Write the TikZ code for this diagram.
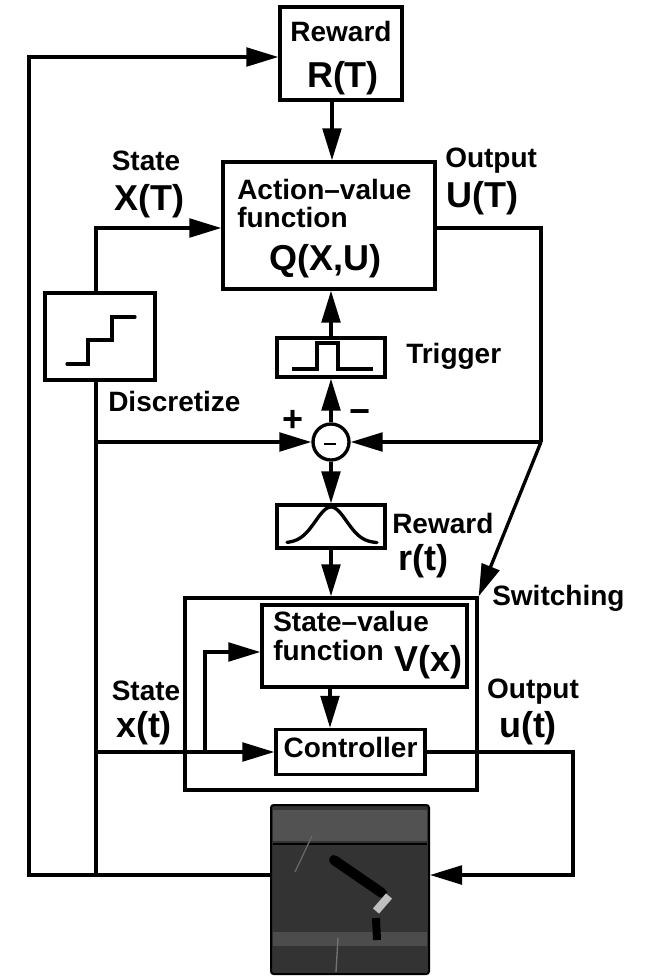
\documentclass[tikz,border=0pt]{standalone}
\usepackage{fontspec}
\setmainfont{Liberation Sans}
\usetikzlibrary{arrows.meta}
\begin{document}
\begin{tikzpicture}[x=0.75pt,y=-0.75pt,
  wire/.style={line width=2.5pt},
  arr/.style={wire,-{Triangle[length=24pt,width=14pt]}},
  blk/.style={draw, line width=2.5pt, inner sep=0pt, fill=white},
  lab/.style={inner sep=0pt, font=\fontsize{21}{21}\selectfont\bfseries},
  fml/.style={inner sep=0pt, font=\fontsize{27}{27}\selectfont\bfseries}]
\useasboundingbox (0,0) rectangle (649,976);

% blocks
\node[blk, minimum width=91.5pt, minimum height=69.75pt] (rew) at (341,53.5) {};
\node[blk, minimum width=159pt, minimum height=95.25pt] (q) at (329,225.5) {};
\node[blk, minimum width=82.5pt, minimum height=65.25pt] (disc) at (100,336.5) {};
\node[blk, minimum width=81pt, minimum height=29.25pt] (trig) at (331,357.5) {};
\node[blk, circle, minimum size=27pt] (sum) at (331,442) {};
\node[blk, minimum width=81pt, minimum height=32.25pt] (gauss) at (331,526.5) {};
\node[draw, line width=2.5pt, inner sep=0pt, minimum width=219pt, minimum height=144pt] (sw) at (331,694) {};
\node[blk, minimum width=153.75pt, minimum height=61.5pt] (sv) at (364.5,646) {};
\node[blk, minimum width=111.75pt, minimum height=33.75pt] (ctrl) at (350.5,752) {};
\node[draw, line width=1.5pt, fill=black!80, rounded corners=2pt, inner sep=0pt,
      minimum width=118.5pt, minimum height=126.75pt] (plant) at (350,889.5) {};

% block icons
\draw[line width=2.5pt, line cap=round] (67,364) -- (88,364) -- (88,340) -- (112,340) -- (112,317) -- (135,317);
\draw[line width=2.5pt] (292,369) -- (317,369) -- (317,343) -- (338,343) -- (338,369) -- (373,369);
\draw[line width=2.5pt, line cap=round] plot[domain=287:377, samples=60] (\x, {543 - 36*exp(-((\x-331)/22)^2)});
\draw[line width=1.8pt] (324,444) -- (336,444);

% cart-pole picture
\fill[black!68] (273,810) rectangle (427,841);
\draw[black, line width=1.6pt] (273,844) -- (427,844);
\fill[black!70] (273,932) rectangle (427,946);
\draw[black!60, line width=1pt] (295,872) -- (312,836);
\draw[black, line width=7.5pt, line cap=round] (334,860) -- (382,893);
\draw[black!25, line width=6pt] (376,911) -- (389,896);
\draw[black, line width=6pt] (376,918) -- (377,940);
\draw[black!55, line width=1pt] (338,938) -- (336,972);

% connectors
\coordinate (lx) at (29,875);
\coordinate (lt) at (29,57);
\coordinate (sx) at (96,875);
\coordinate (dq) at (96,228);
\coordinate (qo) at (541,228);
\coordinate (qd) at (541,442);
\coordinate (sp) at (96,442);
\coordinate (cx) at (332,0);
\coordinate (cs) at (96,752);
\coordinate (vb) at (205,752);
\coordinate (vt) at (205,652);
\coordinate (cv) at (330,0);
\coordinate (co) at (573,752);
\coordinate (cb) at (573,875);

\draw[arr] (plant.west |- lx) -- (lx) -- (lt) -- (rew.west |- lt);
\draw[wire] (sx) -- (disc.south -| sx);
\draw[arr] (disc.north -| dq) -- (dq) -- (q.west |- dq);
\draw[arr] (rew.south -| cx) -- (q.north -| cx);
\draw[wire] (q.east |- qo) -- (qo) -- (qd);
\draw[arr] (qd) -- (sum.east);
\draw[arr] (qd) -- (sw.north east);
\draw[arr] (sp) -- (sum.west);
\draw[arr] (sum.north) -- (trig.south);
\draw[arr] (trig.north) -- (trig.north |- q.south);
\draw[arr] (sum.south) -- (gauss.north);
\draw[arr] (gauss.south) -- (gauss.south |- sw.north);
\draw[arr] (cs) -- (ctrl.west |- cs);
\draw[arr] (vb) -- (vt) -- (sv.west |- vt);
\draw[arr] (sv.south -| cv) -- (ctrl.north -| cv);
\draw[arr] (ctrl.east |- co) -- (co) -- (cb) -- (plant.east |- cb);

% labels
\node[lab, anchor=base] (tRw) at (341,41) {Reward};
\node[fml, anchor=base] (tRT) at (343,87) {R(T)};
\node[lab, anchor=base] (tSt1) at (146,170) {State};
\node[fml, anchor=base] (tXT) at (149,210) {X(T)};
\node[lab, anchor=base west] (tOu1) at (445,167) {Output};
\node[fml, anchor=base west] (tUT) at (446,207) {U(T)};
\node[lab, anchor=base west] (tAV) at (237,199) {Action–value};
\node[lab, anchor=base west] (tFn1) at (237,227) {function};
\node[fml, anchor=base] (tQ) at (325,270) {Q(X,U)};
\node[lab, anchor=base west] (tTr) at (406,363) {Trigger};
\node[lab, anchor=base west] (tDi) at (108,411) {Discretize};
\node[fml] (tPl) at (293,421) {+};
\node[fml] (tMi) at (360,417) {−};
\node[lab, anchor=base west] (tRw2) at (392,533) {Reward};
\node[fml, anchor=base west] (trt) at (398,570) {r(t)};
\node[lab, anchor=base west] (tSw) at (492,605) {Switching};
\node[lab, anchor=base west] (tSV) at (273,631) {State–value};
\node[lab, anchor=base west] (tFn2) at (273,660) {function};
\node[fml, anchor=base west] (tVx) at (394,671) {V(x)};
\node[lab, anchor=base] (tSt2) at (146,700) {State};
\node[fml, anchor=base] (txt) at (144,737) {x(t)};
\node[lab, anchor=base] (tOu2) at (533,698) {Output};
\node[fml, anchor=base] (tut) at (528,737) {u(t)};
\node[lab, anchor=base] (tCt) at (350.5,757) {Controller};
\end{tikzpicture}
\end{document}
